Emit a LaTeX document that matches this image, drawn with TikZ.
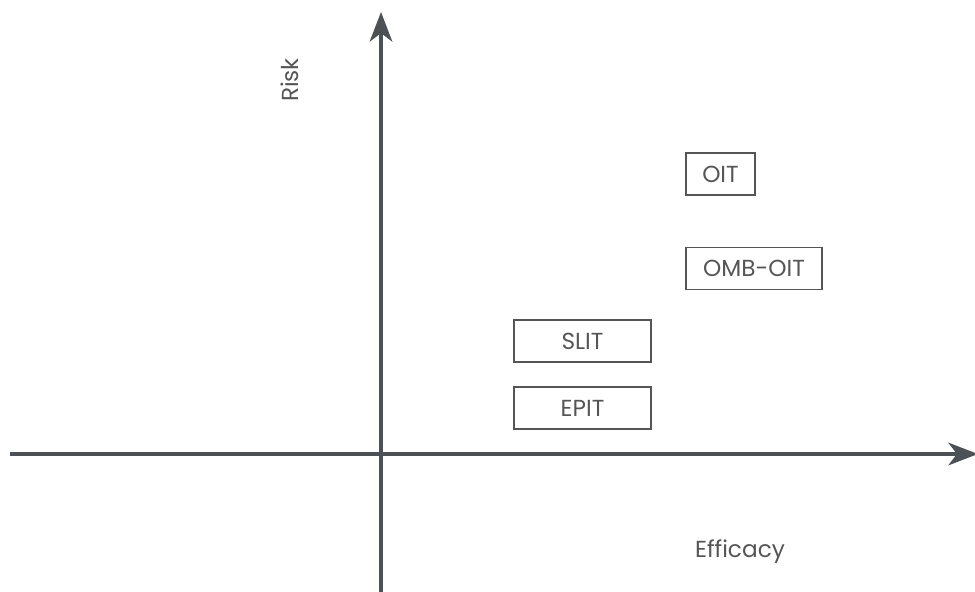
\documentclass[tikz,border=0pt]{standalone}
\usepackage{fontspec}
\setmainfont{Poppins}
\usepackage{tikz}
\usetikzlibrary{arrows.meta, positioning}
\definecolor{axisgray}{RGB}{77, 81, 86}
\definecolor{textgray}{RGB}{85, 85, 85}
\tikzstyle{therapy} = [rectangle, draw=textgray, line width=1.4pt, text=textgray, font=\fontsize{16.5}{18}\selectfont, inner sep=0pt, minimum height=1.05cm]
\tikzstyle{axislabel} = [text=textgray, font=\fontsize{16.5}{18}\selectfont]
\tikzstyle{axis} = [axisgray, line width=2.8pt, -{Stealth[length=21pt, width=16pt, inset=6pt]}]

\begin{document}
\begin{tikzpicture}[x=0.025cm, y=-0.025cm]
    \useasboundingbox (0,0) rectangle (975,592);

    % Axes
    \coordinate (xstart) at (10,454);
    \coordinate (xend) at (978,454);
    \coordinate (ystart) at (381,592);
    \coordinate (yend) at (381,12);
    \draw[axis] (xstart) -- (xend);
    \draw[axis] (ystart) -- (yend);

    % Axis labels
    \node[axislabel, rotate=90] (risk) at (290,80) {Risk};
    \node[axislabel] (efficacy) at (740,552) {Efficacy};

    % Therapies
    \node[therapy, minimum width=1.725cm] (oit) at (720.5,174) {OIT};
    \node[therapy, minimum width=3.4cm] (omboit) at (754,268.5) {OMB-OIT};
    \node[therapy, minimum width=3.425cm] (slit) at (582.5,341) {SLIT};
    \node[therapy, minimum width=3.425cm] (epit) at (582.5,408) {EPIT};
\end{tikzpicture}
\end{document}
